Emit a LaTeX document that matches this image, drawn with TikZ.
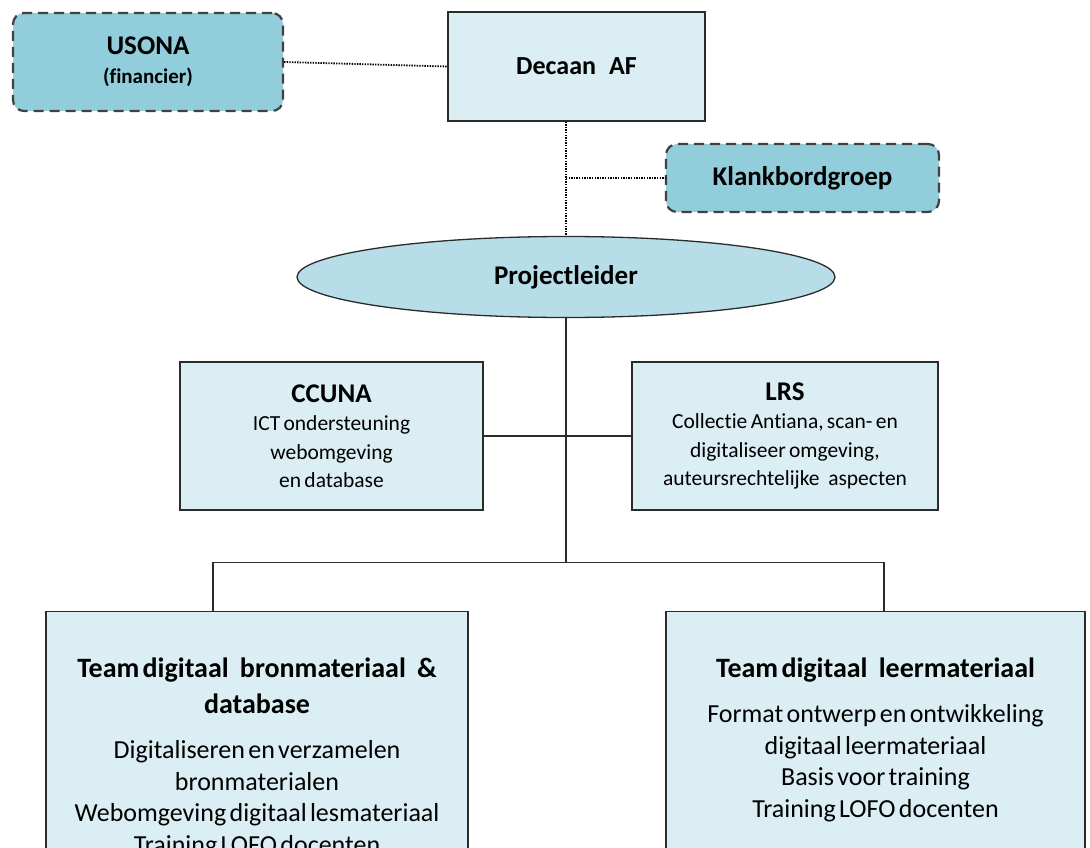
\documentclass[tikz,border=0pt]{standalone}
\usepackage{fontspec}
\setmainfont{Carlito}[Ligatures=CommonOff]
\usetikzlibrary{shapes.geometric, calc}
\definecolor{lightbox}{HTML}{DAEEF3}
\definecolor{darkbox}{HTML}{92CDDC}
\definecolor{ellfill}{HTML}{B7DEE8}
\definecolor{edge}{HTML}{2B2B2B}
\tikzset{
    my-box/.style={
        draw=edge, fill=lightbox, line width=1.3pt, align=center, inner sep=0pt
    },
    my-ext-box/.style={
        draw=edge!90, fill=darkbox, line width=2.2pt, dash pattern=on 10pt off 6pt,
        rounded corners=11pt, align=center, inner sep=0pt
    },
    my-ellipse/.style={
        ellipse, draw=edge, fill=ellfill, line width=1.3pt, inner sep=0pt
    },
    my-dotted/.style={
        line width=1.8pt, dash pattern=on 1.4pt off 1.2pt
    },
    my-wire/.style={
        line width=1.3pt, draw=edge
    },
}
\newcommand{\titlefont}{\fontsize{27}{34}\selectfont\bfseries}
\newcommand{\smallfont}{\fontsize{21}{29}\selectfont\bfseries}
\newcommand{\bodyfont}{\fontsize{21.5}{28.5}\selectfont\mdseries}
\newcommand{\teamtitle}{\fontsize{28}{36}\selectfont\bfseries}
\newcommand{\teamfont}{\fontsize{26}{31.5}\selectfont\mdseries}

\begin{document}
\begin{tikzpicture}[x=1pt, y=-1pt]

        \useasboundingbox (0,0) rectangle (1090,848);
        \clip (0,0) rectangle (1090,848);

        % TOP ROW
        \node[my-ext-box, minimum width=270, minimum height=98, text width=260] (USONA) at (148, 62)
            {{\titlefont USONA\par}{\smallfont (financier)\par}};
        \node[my-box, minimum width=257, minimum height=109, text width=250] (DECAAN) at (576.5, 66.5)
            {{\fontsize{26}{30}\selectfont\bfseries Decaan\hspace{0.5em}AF\par}\vspace{8pt}};
        \node[my-ext-box, minimum width=273, minimum height=68] (KLANK) at (802.5, 178)
            {\titlefont Klankbordgroep};

        % PROJECTLEIDER
        \node[my-ellipse, minimum width=538, minimum height=81] (PROJ) at (566, 277)
            {\titlefont Projectleider};

        % SUPPORT BOXES
        \node[my-box, minimum width=303, minimum height=148, text width=295] (CCUNA) at (331.5, 436)
            {{\titlefont CCUNA\par}{\bodyfont ICT ondersteuning\\ webomgeving\\ en database\par}};
        \node[my-box, minimum width=306, minimum height=148, text width=298] (LRS) at (785, 436)
            {{\titlefont LRS\par}{\bodyfont Collectie Antiana, scan- en\\ digitaliseer omgeving,\\ auteursrechtelijke\hspace{0.4em}aspecten\par}};

        % TEAMS
        \node[my-box, anchor=north, text width=422, inner ysep=46pt] (TEAMBRON) at (257, 611)
            {{\teamtitle Team digitaal\hspace{0.4em}bronmateriaal\hspace{0.4em}\&\\ database\par}\vspace{14pt}
             {\teamfont Digitaliseren en verzamelen\\ bronmaterialen\\ Webomgeving digitaal lesmateriaal\\ Training LOFO docenten\par}\vspace{40pt}};
        \node[my-box, anchor=north, text width=419, inner ysep=46pt] (TEAMLEER) at (875.5, 611)
            {{\teamtitle Team digitaal\hspace{0.4em}leermateriaal\par}\vspace{14pt}
             {\teamfont Format ontwerp en ontwikkeling\\ digitaal leermateriaal\\ Basis voor training\\ Training LOFO docenten\par}\vspace{60pt}};

        % CONNECTOR POINTS
        \coordinate (DECAANOUT) at ($(DECAAN.south) + (-10.5, 0)$);
        \coordinate (KLANKJ)    at (DECAANOUT |- KLANK.west);
        \coordinate (TEAMJ)     at ($(PROJ.south) + (0, 244)$);
        \coordinate (BRONIN)    at ($(TEAMBRON.north) + (-44, 0)$);
        \coordinate (LEERIN)    at ($(TEAMLEER.north) + (8.5, 0)$);

        % DOTTED LINES
        \draw[my-dotted] (USONA.east) -- (DECAAN.west);
        \draw[my-dotted] (DECAANOUT) -- (PROJ.north);
        \draw[my-dotted] (KLANKJ) -- (KLANK.west);

        % SOLID LINES
        \draw[my-wire] (PROJ.south) -- (TEAMJ);
        \draw[my-wire] (CCUNA.east) -- (LRS.west);
        \draw[my-wire] (BRONIN) -- (BRONIN |- TEAMJ) -- (LEERIN |- TEAMJ) -- (LEERIN);

    \end{tikzpicture}
\end{document}
